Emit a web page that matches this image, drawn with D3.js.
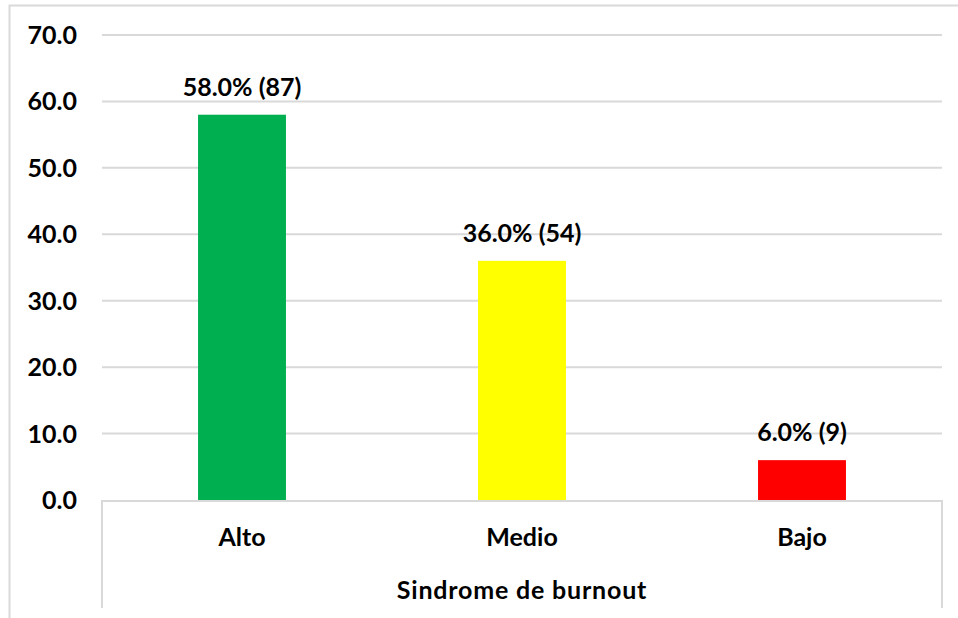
<!DOCTYPE html>
<html><head><meta charset="utf-8">
<script src="https://cdn.jsdelivr.net/npm/d3@7"></script>
<style>body{margin:0;background:#fff}svg{display:block}text{font-family:Lato,"Open Sans",sans-serif;font-weight:bold;fill:#000}</style>
</head><body><svg id="c" width="958" height="618"></svg>
<script>
const categories = ["Alto", "Medio", "Bajo"];
const values = [58.0, 36.0, 6.0];
const counts = [87, 54, 9];
const colors = ["#00b050", "#ffff00", "#ff0000"];
const yTicks = [0, 10, 20, 30, 40, 50, 60, 70];
const xTitle = "Sindrome de burnout";

(function () {
const svg = d3.select("#c");
const mL = 102, mR = 942, mT = 35, mB = 500;
const fs = "25px";
const x = d3.scaleBand().domain(categories).range([mL, mR]).paddingInner(0.686).paddingOuter(0.343);
const xc = d3.scaleBand().domain(categories).range([mL, mR]);
const y = d3.scaleLinear().domain([0, 70]).range([mB, mT]);
const grid = "#d9d9d9";

svg.append("path").attr("d", "M9.5,618V5.5H958").attr("fill", "none").attr("stroke", grid).attr("stroke-width", 2);

svg.append("g").selectAll("line").data(yTicks.filter(d => d > 0)).join("line")
  .attr("x1", mL).attr("x2", mR).attr("y1", d => y(d)).attr("y2", d => y(d))
  .attr("stroke", grid).attr("stroke-width", 2);

svg.append("g").selectAll("text").data(yTicks).join("text")
  .attr("x", 77).attr("y", d => y(d) + 9).attr("text-anchor", "end")
  .style("font-size", fs).text(d => d.toFixed(1));

svg.append("g").selectAll("rect").data(values).join("rect")
  .attr("x", (d, i) => x(categories[i])).attr("width", x.bandwidth())
  .attr("y", d => y(d)).attr("height", d => y(0) - y(d))
  .attr("fill", (d, i) => colors[i]);

svg.append("g").selectAll("text").data(values).join("text")
  .attr("x", (d, i) => x(categories[i]) + x.bandwidth() / 2).attr("y", d => y(d) - 19)
  .attr("text-anchor", "middle").style("font-size", fs)
  .text((d, i) => d.toFixed(1) + "% (" + counts[i] + ")");

svg.append("line").attr("x1", mL - 1).attr("x2", mR + 1).attr("y1", mB + 1).attr("y2", mB + 1).attr("stroke", grid).attr("stroke-width", 2);
svg.append("g").selectAll("line").data([mL, mR]).join("line")
  .attr("x1", d => d).attr("x2", d => d).attr("y1", mB).attr("y2", 608)
  .attr("stroke", grid).attr("stroke-width", 2);

svg.append("g").selectAll("text").data(categories).join("text")
  .attr("x", d => xc(d) + xc.bandwidth() / 2).attr("y", 546)
  .attr("text-anchor", "middle").style("font-size", fs).text(d => d);

svg.append("text").attr("x", (mL + mR) / 2).attr("y", 599).attr("text-anchor", "middle")
  .style("font-size", fs).style("letter-spacing", "0.8px").text(xTitle);
})();
</script></body></html>
